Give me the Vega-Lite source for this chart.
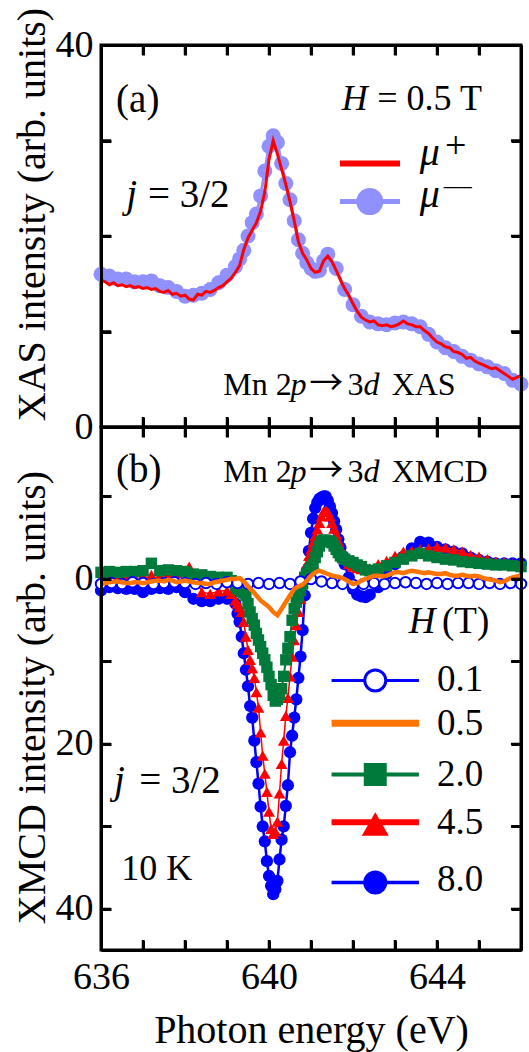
{
"$schema": "https://vega.github.io/schema/vega-lite/v6.json",
"padding": {"left": 10, "top": 5, "right": 5, "bottom": 5},
"background": "white",
"config": {
  "view": {"stroke": "black", "strokeWidth": 3},
  "axis": {"grid": false,
    "labelFont": "Liberation Serif", "labelFontSize": 38, "labelColor": "black", "labelPadding": 18, "labelFlush": false, "labelOverlap": false,
    "titleFont": "Liberation Serif", "titleFontSize": 40, "titleFontWeight": "normal", "titleColor": "black"},
  "text": {"font": "Liberation Serif", "color": "black", "align": "left", "baseline": "alphabetic"}
},
"datasets": {
  "one": [{"k": 1}],
  "xt": [{"t":637},{"t":638},{"t":639},{"t":640},{"t":641},{"t":642},{"t":643},{"t":644},{"t":645}],
  "yta": [{"t":10},{"t":20},{"t":30}],
  "ytb": [{"t":-10},{"t":0},{"t":10},{"t":20},{"t":30},{"t":40}],
  "mp": [
    {"e":636.0,"v":15.4},{"e":636.1,"v":15.2},{"e":636.2,"v":14.9},{"e":636.3,"v":15.1},{"e":636.4,"v":14.8},{"e":636.5,"v":14.9},{"e":636.6,"v":14.7},{"e":636.7,"v":14.8},{"e":636.8,"v":14.6},{"e":636.9,"v":14.7},
    {"e":637.0,"v":14.5},{"e":637.1,"v":14.6},{"e":637.2,"v":14.4},{"e":637.3,"v":14.5},{"e":637.4,"v":14.2},{"e":637.5,"v":14.1},{"e":637.6,"v":14.3},{"e":637.7,"v":13.9},{"e":637.8,"v":14.0},{"e":637.9,"v":13.7},
    {"e":638.0,"v":13.8},{"e":638.1,"v":13.4},{"e":638.2,"v":13.3},{"e":638.3,"v":13.9},{"e":638.4,"v":13.8},{"e":638.5,"v":14.2},{"e":638.6,"v":14.1},{"e":638.7,"v":14.3},{"e":638.8,"v":14.6},{"e":638.9,"v":14.8},
    {"e":639.0,"v":15.2},{"e":639.1,"v":15.6},{"e":639.2,"v":16.2},{"e":639.3,"v":16.9},{"e":639.4,"v":18.6},{"e":639.5,"v":19.8},{"e":639.6,"v":20.6},{"e":639.7,"v":21.4},{"e":639.8,"v":22.6},{"e":639.9,"v":24.6},
    {"e":640.0,"v":28.0},{"e":640.1,"v":30.0},{"e":640.2,"v":28.6},{"e":640.3,"v":27.0},{"e":640.4,"v":25.4},{"e":640.5,"v":23.6},{"e":640.6,"v":21.6},{"e":640.7,"v":19.4},{"e":640.8,"v":18.2},{"e":640.9,"v":17.5},
    {"e":641.0,"v":16.6},{"e":641.1,"v":16.2},{"e":641.2,"v":16.3},{"e":641.3,"v":17.4},{"e":641.4,"v":17.9},{"e":641.5,"v":17.3},{"e":641.6,"v":16.4},{"e":641.7,"v":15.4},{"e":641.8,"v":14.5},{"e":641.9,"v":13.8},
    {"e":642.0,"v":12.9},{"e":642.1,"v":12.1},{"e":642.2,"v":11.5},{"e":642.3,"v":11.2},{"e":642.4,"v":11.0},{"e":642.5,"v":11.1},{"e":642.6,"v":10.7},{"e":642.7,"v":10.6},{"e":642.8,"v":10.7},{"e":642.9,"v":10.5},
    {"e":643.0,"v":10.6},{"e":643.1,"v":10.8},{"e":643.2,"v":11.1},{"e":643.3,"v":10.8},{"e":643.4,"v":10.7},{"e":643.5,"v":10.5},{"e":643.6,"v":10.5},{"e":643.7,"v":10.1},{"e":643.8,"v":9.8},{"e":643.9,"v":9.3},
    {"e":644.0,"v":8.9},{"e":644.1,"v":8.7},{"e":644.2,"v":8.4},{"e":644.3,"v":8.3},{"e":644.4,"v":7.9},{"e":644.5,"v":7.8},{"e":644.6,"v":7.6},{"e":644.7,"v":7.2},{"e":644.8,"v":7.3},{"e":644.9,"v":6.9},
    {"e":645.0,"v":6.7},{"e":645.1,"v":6.5},{"e":645.2,"v":6.3},{"e":645.3,"v":6.1},{"e":645.4,"v":6.2},{"e":645.5,"v":5.9},{"e":645.6,"v":5.6},{"e":645.7,"v":5.3},{"e":645.8,"v":5.0},{"e":645.9,"v":5.2},{"e":646.0,"v":5.4}
  ],
  "mm": [
    {"e":636.0,"v":16.0},{"e":636.2,"v":15.8},{"e":636.4,"v":15.5},{"e":636.6,"v":15.5},{"e":636.8,"v":15.2},{"e":637.0,"v":15.2},{"e":637.2,"v":15.3},{"e":637.4,"v":14.8},{"e":637.6,"v":14.6},{"e":637.8,"v":14.2},
    {"e":638.0,"v":13.7},{"e":638.2,"v":13.8},{"e":638.4,"v":14.0},{"e":638.6,"v":14.4},{"e":638.8,"v":15.1},{"e":639.0,"v":15.9},{"e":639.2,"v":16.8},{"e":639.3,"v":17.6},{"e":639.4,"v":18.5},{"e":639.5,"v":20.0},
    {"e":639.6,"v":21.4},{"e":639.7,"v":22.3},{"e":639.8,"v":24.2},{"e":639.9,"v":26.8},{"e":640.0,"v":29.4},{"e":640.1,"v":30.5},{"e":640.2,"v":29.8},{"e":640.3,"v":27.6},{"e":640.4,"v":25.5},{"e":640.5,"v":23.8},
    {"e":640.6,"v":21.6},{"e":640.7,"v":19.6},{"e":640.8,"v":18.2},{"e":640.9,"v":17.2},{"e":641.0,"v":16.6},{"e":641.1,"v":16.3},{"e":641.2,"v":16.4},{"e":641.3,"v":17.4},{"e":641.4,"v":18.1},{"e":641.6,"v":16.6},
    {"e":641.8,"v":14.4},{"e":642.0,"v":12.8},{"e":642.2,"v":11.6},{"e":642.4,"v":11.0},{"e":642.6,"v":10.8},{"e":642.8,"v":10.7},{"e":643.0,"v":10.9},{"e":643.2,"v":11.0},{"e":643.4,"v":10.8},{"e":643.6,"v":10.5},
    {"e":643.8,"v":9.7},{"e":644.0,"v":8.9},{"e":644.2,"v":8.3},{"e":644.4,"v":7.9},{"e":644.6,"v":7.4},{"e":644.8,"v":7.0},{"e":645.0,"v":6.6},{"e":645.2,"v":6.3},{"e":645.4,"v":5.9},{"e":645.6,"v":5.6},{"e":645.8,"v":4.9},{"e":646.0,"v":4.5}
  ],
  "h80": [
    {"e":636.0,"v":1.4},{"e":636.2,"v":1.0},{"e":636.4,"v":1.1},{"e":636.6,"v":1.2},{"e":636.8,"v":1.2},{"e":637.0,"v":1.6},{"e":637.2,"v":1.2},{"e":637.4,"v":1.1},{"e":637.6,"v":1.2},{"e":637.8,"v":1.0},
    {"e":638.0,"v":1.6},{"e":638.2,"v":2.4},{"e":638.4,"v":2.7},{"e":638.6,"v":2.7},{"e":638.8,"v":2.4},{"e":639.0,"v":2.4},{"e":639.1,"v":2.2},{"e":639.2,"v":3.0},{"e":639.25,"v":4.2},{"e":639.3,"v":5.2},
    {"e":639.35,"v":7.0},{"e":639.4,"v":9.0},{"e":639.45,"v":11.0},{"e":639.5,"v":13.0},{"e":639.55,"v":15.4},{"e":639.6,"v":16.8},{"e":639.65,"v":19.6},{"e":639.7,"v":22.2},{"e":639.75,"v":24.8},{"e":639.8,"v":27.6},
    {"e":639.85,"v":30.0},{"e":639.9,"v":31.8},{"e":639.95,"v":34.2},{"e":640.0,"v":36.0},{"e":640.05,"v":37.2},{"e":640.1,"v":38.2},{"e":640.15,"v":37.6},{"e":640.2,"v":36.6},{"e":640.25,"v":34.0},{"e":640.3,"v":31.6},
    {"e":640.35,"v":30.0},{"e":640.4,"v":27.5},{"e":640.45,"v":25.0},{"e":640.5,"v":21.0},{"e":640.55,"v":19.0},{"e":640.6,"v":16.8},{"e":640.65,"v":14.6},{"e":640.7,"v":12.0},{"e":640.75,"v":9.4},{"e":640.8,"v":6.2},
    {"e":640.85,"v":2.0},{"e":640.9,"v":-1.0},{"e":640.95,"v":-3.4},{"e":641.0,"v":-5.6},{"e":641.05,"v":-7.3},{"e":641.1,"v":-8.6},{"e":641.15,"v":-9.3},{"e":641.2,"v":-9.7},{"e":641.25,"v":-9.9},{"e":641.3,"v":-10.0},
    {"e":641.35,"v":-10.0},{"e":641.4,"v":-9.5},{"e":641.45,"v":-8.8},{"e":641.5,"v":-8.0},{"e":641.55,"v":-7.0},{"e":641.6,"v":-6.0},{"e":641.65,"v":-4.8},{"e":641.7,"v":-3.8},{"e":641.75,"v":-2.8},{"e":641.8,"v":-1.8},
    {"e":641.9,"v":-0.2},{"e":642.0,"v":1.2},{"e":642.1,"v":1.9},{"e":642.2,"v":2.1},{"e":642.3,"v":2.2},{"e":642.4,"v":1.9},{"e":642.6,"v":1.0},{"e":642.8,"v":-0.6},{"e":643.0,"v":-1.8},{"e":643.2,"v":-2.7},
    {"e":643.4,"v":-3.7},{"e":643.6,"v":-4.5},{"e":643.8,"v":-4.4},{"e":644.0,"v":-3.9},{"e":644.2,"v":-3.6},{"e":644.4,"v":-3.3},{"e":644.6,"v":-3.1},{"e":644.8,"v":-2.6},{"e":645.0,"v":-2.3},{"e":645.2,"v":-2.1},
    {"e":645.4,"v":-1.9},{"e":645.6,"v":-1.9},{"e":645.8,"v":-1.9},{"e":646.0,"v":-1.9}
  ],
  "h45": [
    {"e":636.0,"v":0.2},{"e":636.2,"v":0.0},{"e":636.4,"v":-0.2},{"e":636.6,"v":-0.3},{"e":636.8,"v":-0.2},{"e":637.0,"v":-0.4},{"e":637.2,"v":-0.5},{"e":637.4,"v":-0.4},{"e":637.6,"v":-0.6},{"e":637.8,"v":-0.7},
    {"e":638.0,"v":-1.0},{"e":638.1,"v":-1.5},{"e":638.2,"v":-0.6},{"e":638.4,"v":1.6},{"e":638.6,"v":1.8},{"e":638.8,"v":1.5},{"e":639.0,"v":1.4},{"e":639.1,"v":1.8},{"e":639.2,"v":2.6},{"e":639.25,"v":3.0},
    {"e":639.3,"v":3.4},{"e":639.35,"v":4.0},{"e":639.4,"v":5.2},{"e":639.45,"v":7.0},{"e":639.5,"v":8.6},{"e":639.55,"v":9.8},{"e":639.6,"v":10.8},{"e":639.65,"v":12.0},{"e":639.7,"v":13.7},{"e":639.75,"v":15.6},
    {"e":639.8,"v":18.6},{"e":639.85,"v":21.4},{"e":639.9,"v":23.6},{"e":639.95,"v":25.8},{"e":640.0,"v":28.2},{"e":640.05,"v":30.3},{"e":640.1,"v":30.9},{"e":640.15,"v":30.6},{"e":640.2,"v":29.4},{"e":640.25,"v":26.0},
    {"e":640.3,"v":22.4},{"e":640.35,"v":19.6},{"e":640.4,"v":16.6},{"e":640.45,"v":14.4},{"e":640.5,"v":11.8},{"e":640.55,"v":9.4},{"e":640.6,"v":7.4},{"e":640.65,"v":5.6},{"e":640.7,"v":4.0},{"e":640.75,"v":2.4},
    {"e":640.8,"v":0.4},{"e":640.85,"v":-0.8},{"e":640.9,"v":-1.8},{"e":640.95,"v":-2.8},{"e":641.0,"v":-3.6},{"e":641.05,"v":-4.4},{"e":641.1,"v":-5.2},{"e":641.15,"v":-6.0},{"e":641.2,"v":-6.8},{"e":641.25,"v":-7.6},
    {"e":641.3,"v":-8.2},{"e":641.35,"v":-8.3},{"e":641.4,"v":-8.1},{"e":641.45,"v":-7.6},{"e":641.5,"v":-6.8},{"e":641.55,"v":-6.1},{"e":641.6,"v":-5.4},{"e":641.65,"v":-4.6},{"e":641.7,"v":-3.8},{"e":641.75,"v":-3.0},
    {"e":641.8,"v":-2.4},{"e":641.9,"v":-1.8},{"e":642.0,"v":-1.5},{"e":642.1,"v":-1.3},{"e":642.2,"v":-1.2},{"e":642.3,"v":-1.2},{"e":642.4,"v":-1.3},{"e":642.6,"v":-1.8},{"e":642.8,"v":-2.2},{"e":643.0,"v":-2.8},
    {"e":643.2,"v":-3.3},{"e":643.4,"v":-3.4},{"e":643.6,"v":-3.6},{"e":643.8,"v":-3.7},{"e":644.0,"v":-3.9},{"e":644.2,"v":-3.8},{"e":644.4,"v":-3.6},{"e":644.6,"v":-3.3},{"e":644.8,"v":-2.9},{"e":645.0,"v":-2.7},
    {"e":645.2,"v":-2.4},{"e":645.4,"v":-2.1},{"e":645.6,"v":-2.0},{"e":645.8,"v":-1.8},{"e":646.0,"v":-1.7}
  ],
  "h20": [
    {"e":636.0,"v":-0.8},{"e":636.2,"v":-0.9},{"e":636.4,"v":-0.8},{"e":636.6,"v":-0.9},{"e":636.8,"v":-0.9},{"e":637.0,"v":-1.0},{"e":637.2,"v":-1.9},{"e":637.4,"v":-1.0},{"e":637.6,"v":-1.1},{"e":637.8,"v":-1.0},
    {"e":638.0,"v":-0.9},{"e":638.2,"v":-0.6},{"e":638.4,"v":-0.5},{"e":638.6,"v":-0.3},{"e":638.8,"v":-0.2},{"e":639.0,"v":-0.2},{"e":639.1,"v":0.2},{"e":639.2,"v":0.8},{"e":639.25,"v":1.1},{"e":639.3,"v":1.3},
    {"e":639.35,"v":1.5},{"e":639.4,"v":1.7},{"e":639.45,"v":2.0},{"e":639.5,"v":3.0},{"e":639.55,"v":4.0},{"e":639.6,"v":4.8},{"e":639.65,"v":5.6},{"e":639.7,"v":6.6},{"e":639.75,"v":7.4},{"e":639.8,"v":8.2},
    {"e":639.85,"v":9.0},{"e":639.9,"v":9.8},{"e":639.95,"v":10.7},{"e":640.0,"v":11.8},{"e":640.05,"v":12.8},{"e":640.1,"v":14.1},{"e":640.15,"v":14.8},{"e":640.2,"v":14.6},{"e":640.25,"v":14.0},{"e":640.3,"v":13.3},
    {"e":640.35,"v":11.8},{"e":640.4,"v":9.8},{"e":640.45,"v":8.4},{"e":640.5,"v":7.0},{"e":640.55,"v":5.0},{"e":640.6,"v":3.6},{"e":640.65,"v":2.8},{"e":640.7,"v":2.2},{"e":640.75,"v":1.4},{"e":640.8,"v":0.6},
    {"e":640.85,"v":-0.2},{"e":640.9,"v":-0.7},{"e":640.95,"v":-1.1},{"e":641.0,"v":-1.4},{"e":641.05,"v":-1.8},{"e":641.1,"v":-2.6},{"e":641.15,"v":-3.3},{"e":641.2,"v":-4.0},{"e":641.25,"v":-4.5},{"e":641.3,"v":-4.7},
    {"e":641.35,"v":-4.7},{"e":641.4,"v":-4.6},{"e":641.45,"v":-4.6},{"e":641.5,"v":-4.4},{"e":641.55,"v":-4.0},{"e":641.6,"v":-3.6},{"e":641.65,"v":-3.2},{"e":641.7,"v":-2.8},{"e":641.75,"v":-2.6},{"e":641.8,"v":-2.4},
    {"e":641.9,"v":-2.2},{"e":642.0,"v":-2.0},{"e":642.1,"v":-1.7},{"e":642.2,"v":-1.5},{"e":642.3,"v":-1.1},{"e":642.4,"v":-1.0},{"e":642.6,"v":-1.2},{"e":642.8,"v":-1.6},{"e":643.0,"v":-2.0},{"e":643.2,"v":-2.4},
    {"e":643.4,"v":-2.8},{"e":643.6,"v":-3.1},{"e":643.8,"v":-2.8},{"e":644.0,"v":-2.6},{"e":644.2,"v":-2.4},{"e":644.4,"v":-2.3},{"e":644.6,"v":-2.1},{"e":644.8,"v":-2.0},{"e":645.0,"v":-1.9},{"e":645.2,"v":-1.8},
    {"e":645.4,"v":-1.7},{"e":645.6,"v":-1.7},{"e":645.8,"v":-1.6},{"e":646.0,"v":-1.5}
  ],
  "h01": [
    {"e":636.0,"v":0.6},{"e":636.25,"v":0.5},{"e":636.5,"v":0.6},{"e":636.75,"v":0.4},{"e":637.0,"v":0.5},{"e":637.25,"v":0.6},{"e":637.5,"v":0.5},{"e":637.75,"v":0.4},{"e":638.0,"v":0.5},{"e":638.25,"v":0.6},
    {"e":638.5,"v":0.5},{"e":638.75,"v":0.6},{"e":639.0,"v":0.4},{"e":639.25,"v":0.5},{"e":639.5,"v":0.6},{"e":639.75,"v":0.5},{"e":640.0,"v":0.6},{"e":640.25,"v":0.5},{"e":640.5,"v":0.6},{"e":640.75,"v":0.3},
    {"e":641.0,"v":0.0},{"e":641.25,"v":0.3},{"e":641.5,"v":0.5},{"e":641.75,"v":0.6},{"e":642.0,"v":0.7},{"e":642.25,"v":0.6},{"e":642.5,"v":0.5},{"e":642.75,"v":0.6},{"e":643.0,"v":0.5},{"e":643.25,"v":0.4},
    {"e":643.5,"v":0.5},{"e":643.75,"v":0.6},{"e":644.0,"v":0.5},{"e":644.25,"v":0.6},{"e":644.5,"v":0.5},{"e":644.75,"v":0.5},{"e":645.0,"v":0.6},{"e":645.25,"v":0.5},{"e":645.5,"v":0.6},{"e":645.75,"v":0.5},{"e":646.0,"v":0.6}
  ],
  "h05": [
    {"e":636.0,"v":0.6},{"e":636.1,"v":0.5},{"e":636.2,"v":0.4},{"e":636.3,"v":0.3},{"e":636.4,"v":0.3},{"e":636.5,"v":0.4},{"e":636.6,"v":0.5},{"e":636.7,"v":0.5},{"e":636.8,"v":0.4},{"e":636.9,"v":0.4},
    {"e":637.0,"v":0.5},{"e":637.1,"v":0.4},{"e":637.2,"v":0.3},{"e":637.3,"v":0.2},{"e":637.4,"v":0.2},{"e":637.5,"v":0.3},{"e":637.6,"v":0.1},{"e":637.7,"v":0.2},{"e":637.8,"v":0.4},{"e":637.9,"v":0.3},
    {"e":638.0,"v":0.2},{"e":638.1,"v":0.3},{"e":638.2,"v":0.4},{"e":638.3,"v":0.5},{"e":638.4,"v":0.5},{"e":638.5,"v":0.6},{"e":638.6,"v":0.6},{"e":638.7,"v":0.4},{"e":638.8,"v":0.3},{"e":638.9,"v":0.2},
    {"e":639.0,"v":0.1},{"e":639.1,"v":0.0},{"e":639.2,"v":0.0},{"e":639.3,"v":-0.1},{"e":639.4,"v":0.3},{"e":639.5,"v":0.9},{"e":639.6,"v":1.4},{"e":639.7,"v":2.0},{"e":639.8,"v":2.6},{"e":639.9,"v":3.0},
    {"e":640.0,"v":3.4},{"e":640.1,"v":4.0},{"e":640.2,"v":4.4},{"e":640.3,"v":3.6},{"e":640.4,"v":2.8},{"e":640.5,"v":2.0},{"e":640.6,"v":1.2},{"e":640.7,"v":0.9},{"e":640.8,"v":0.7},{"e":640.9,"v":0.2},
    {"e":641.0,"v":-0.4},{"e":641.1,"v":-0.8},{"e":641.2,"v":-1.0},{"e":641.3,"v":-0.8},{"e":641.4,"v":-0.6},{"e":641.5,"v":-0.4},{"e":641.6,"v":-0.3},{"e":641.7,"v":-0.2},{"e":641.8,"v":0.0},{"e":641.9,"v":0.3},
    {"e":642.0,"v":0.6},{"e":642.1,"v":0.5},{"e":642.2,"v":0.2},{"e":642.3,"v":0.0},{"e":642.4,"v":-0.2},{"e":642.5,"v":-0.4},{"e":642.6,"v":-0.4},{"e":642.7,"v":-0.3},{"e":642.8,"v":-0.4},{"e":642.9,"v":-0.6},
    {"e":643.0,"v":-0.8},{"e":643.1,"v":-0.8},{"e":643.2,"v":-0.7},{"e":643.3,"v":-0.9},{"e":643.4,"v":-1.0},{"e":643.5,"v":-0.9},{"e":643.6,"v":-0.8},{"e":643.7,"v":-0.7},{"e":643.8,"v":-0.8},{"e":643.9,"v":-0.7},
    {"e":644.0,"v":-0.6},{"e":644.1,"v":-0.6},{"e":644.2,"v":-0.7},{"e":644.3,"v":-0.5},{"e":644.4,"v":-0.4},{"e":644.5,"v":-0.4},{"e":644.6,"v":-0.5},{"e":644.7,"v":-0.4},{"e":644.8,"v":-0.3},{"e":644.9,"v":-0.4},
    {"e":645.0,"v":-0.3},{"e":645.1,"v":-0.1},{"e":645.2,"v":0.0},{"e":645.3,"v":0.1},{"e":645.4,"v":0.2},{"e":645.5,"v":0.4},{"e":645.6,"v":0.3},{"e":645.7,"v":0.0},{"e":645.8,"v":-0.2},{"e":645.9,"v":-0.3},{"e":646.0,"v":-0.4}
  ]
},
"spacing": 0,
"bounds": "flush",
"vconcat": [
 {
  "width": 420, "height": 382,
  "resolve": {"axis": {"x": "independent", "y": "independent"}},
  "layer": [
   {"data": {"name": "mm"}, "mark": {"type": "line", "color": "#9090ff", "strokeWidth": 3},
    "encoding": {
     "x": {"field": "e", "type": "quantitative", "scale": {"domain": [636, 646], "nice": false, "zero": false},
           "axis": {"orient": "bottom", "values": [636,637,638,639,640,641,642,643,644,645,646], "labels": false, "tickSize": -10, "tickColor": "#000000", "tickWidth": 3, "domainColor": "black", "domainWidth": 3, "zindex": 1, "title": null}},
     "y": {"field": "v", "type": "quantitative", "scale": {"domain": [0, 40], "nice": false, "zero": false},
           "axis": {"orient": "left", "values": [0,10,20,30,40], "labelExpr": "datum.value % 40 === 0 ? datum.label : ''", "tickSize": -10, "tickColor": "#000000", "tickWidth": 3, "domainColor": "black", "domainWidth": 3, "zindex": 1, "title": "XAS intensity (arb. units)", "titleY": 169, "titlePadding": 3}}
    }},
   {"data": {"name": "mm"}, "mark": {"type": "point", "shape": "circle", "filled": true, "color": "#9090ff", "size": 225, "opacity": 1},
    "encoding": {
     "x": {"field": "e", "type": "quantitative", "axis": {"orient": "top", "values": [636,637,638,639,640,641,642,643,644,645,646], "labels": false, "tickSize": -10, "tickColor": "#000000", "tickWidth": 3, "domainColor": "black", "domainWidth": 3, "zindex": 1, "title": null}},
     "y": {"field": "v", "type": "quantitative", "axis": {"orient": "right", "values": [0,10,20,30,40], "labels": false, "tickSize": -10, "tickColor": "#000000", "tickWidth": 3, "domainColor": "black", "domainWidth": 3, "zindex": 1, "title": null}}
    }},
   {"data": {"name": "mp"}, "mark": {"type": "line", "color": "#ff0000", "strokeWidth": 3},
    "encoding": {"x": {"field": "e", "type": "quantitative", "axis": null}, "y": {"field": "v", "type": "quantitative", "axis": null}}},
   {"data": {"name": "xt"}, "mark": {"type": "rule", "color": "black", "strokeWidth": 2.5},
    "encoding": {"x": {"field": "t", "type": "quantitative", "axis": null}, "y": {"datum": 0, "type": "quantitative", "axis": null}, "y2": {"datum": 1.05}}},
   {"data": {"name": "xt"}, "mark": {"type": "rule", "color": "black", "strokeWidth": 2.5},
    "encoding": {"x": {"field": "t", "type": "quantitative", "axis": null}, "y": {"datum": 40, "type": "quantitative", "axis": null}, "y2": {"datum": 38.95}}},
   {"data": {"name": "yta"}, "mark": {"type": "rule", "color": "black", "strokeWidth": 2.5},
    "encoding": {"y": {"field": "t", "type": "quantitative", "axis": null}, "x": {"datum": 636, "type": "quantitative", "axis": null}, "x2": {"datum": 636.24}}},
   {"data": {"name": "yta"}, "mark": {"type": "rule", "color": "black", "strokeWidth": 2.5},
    "encoding": {"y": {"field": "t", "type": "quantitative", "axis": null}, "x": {"datum": 646, "type": "quantitative", "axis": null}, "x2": {"datum": 645.76}}},
   {"data": {"name": "one"}, "mark": {"type": "rule", "color": "#ff0000", "strokeWidth": 6},
    "encoding": {"x": {"datum": 641.69, "type": "quantitative", "axis": null}, "x2": {"datum": 643.12}, "y": {"datum": 27.6, "type": "quantitative", "axis": null}}},
   {"data": {"name": "one"}, "mark": {"type": "rule", "color": "#9090ff", "strokeWidth": 5},
    "encoding": {"x": {"datum": 641.69, "type": "quantitative", "axis": null}, "x2": {"datum": 643.12}, "y": {"datum": 23.6, "type": "quantitative", "axis": null}}},
   {"data": {"name": "one"}, "mark": {"type": "point", "shape": "circle", "filled": true, "color": "#9090ff", "size": 729, "opacity": 1},
    "encoding": {"x": {"datum": 642.40, "type": "quantitative", "axis": null}, "y": {"datum": 23.6, "type": "quantitative", "axis": null}}},
   {"data": {"name": "one"}, "mark": {"type": "text", "text": "(a)", "fontSize": 39},
    "encoding": {"x": {"datum": 636.36, "type": "quantitative", "axis": null}, "y": {"datum": 33.0, "type": "quantitative", "axis": null}}},
   {"data": {"name": "one"}, "mark": {"type": "text", "text": "H", "fontSize": 36, "fontStyle": "italic"},
    "encoding": {"x": {"datum": 641.73, "type": "quantitative", "axis": null}, "y": {"datum": 33.2, "type": "quantitative", "axis": null}}},
   {"data": {"name": "one"}, "mark": {"type": "text", "text": "= 0.5 T", "fontSize": 36, "align": "right"},
    "encoding": {"x": {"datum": 645.07, "type": "quantitative", "axis": null}, "y": {"datum": 33.2, "type": "quantitative", "axis": null}}},
   {"data": {"name": "one"}, "mark": {"type": "text", "text": "j", "fontSize": 39, "fontStyle": "italic"},
    "encoding": {"x": {"datum": 636.60, "type": "quantitative", "axis": null}, "y": {"datum": 23.0, "type": "quantitative", "axis": null}}},
   {"data": {"name": "one"}, "mark": {"type": "text", "text": "= 3/2", "fontSize": 39},
    "encoding": {"x": {"datum": 637.12, "type": "quantitative", "axis": null}, "y": {"datum": 23.0, "type": "quantitative", "axis": null}}},
   {"data": {"name": "one"}, "mark": {"type": "text", "text": "Mn 2", "fontSize": 32},
    "encoding": {"x": {"datum": 638.91, "type": "quantitative", "axis": null}, "y": {"datum": 3.38, "type": "quantitative", "axis": null}}},
   {"data": {"name": "one"}, "mark": {"type": "text", "text": "p", "fontSize": 32, "fontStyle": "italic"},
    "encoding": {"x": {"datum": 640.51, "type": "quantitative", "axis": null}, "y": {"datum": 3.38, "type": "quantitative", "axis": null}}},
   {"data": {"name": "one"}, "mark": {"type": "text", "text": "→", "fontSize": 34, "font": "Noto Sans CJK JP"},
    "encoding": {"x": {"datum": 640.96, "type": "quantitative", "axis": null}, "y": {"datum": 3.38, "type": "quantitative", "axis": null}}},
   {"data": {"name": "one"}, "mark": {"type": "text", "text": "3", "fontSize": 32},
    "encoding": {"x": {"datum": 641.87, "type": "quantitative", "axis": null}, "y": {"datum": 3.38, "type": "quantitative", "axis": null}}},
   {"data": {"name": "one"}, "mark": {"type": "text", "text": "d", "fontSize": 32, "fontStyle": "italic"},
    "encoding": {"x": {"datum": 642.25, "type": "quantitative", "axis": null}, "y": {"datum": 3.38, "type": "quantitative", "axis": null}}},
   {"data": {"name": "one"}, "mark": {"type": "text", "text": "XAS", "fontSize": 32},
    "encoding": {"x": {"datum": 642.92, "type": "quantitative", "axis": null}, "y": {"datum": 3.38, "type": "quantitative", "axis": null}}},
   {"data": {"name": "one"}, "mark": {"type": "text", "text": "μ", "fontSize": 40, "fontStyle": "italic"},
    "encoding": {"x": {"datum": 643.59, "type": "quantitative", "axis": null}, "y": {"datum": 27.4, "type": "quantitative", "axis": null}}},
   {"data": {"name": "one"}, "mark": {"type": "text", "text": "+", "fontSize": 38},
    "encoding": {"x": {"datum": 644.19, "type": "quantitative", "axis": null}, "y": {"datum": 28.2, "type": "quantitative", "axis": null}}},
   {"data": {"name": "one"}, "mark": {"type": "text", "text": "μ", "fontSize": 40, "fontStyle": "italic"},
    "encoding": {"x": {"datum": 643.59, "type": "quantitative", "axis": null}, "y": {"datum": 23.0, "type": "quantitative", "axis": null}}},
   {"data": {"name": "one"}, "mark": {"type": "text", "text": "—", "fontSize": 28},
    "encoding": {"x": {"datum": 644.16, "type": "quantitative", "axis": null}, "y": {"datum": 24.4, "type": "quantitative", "axis": null}}}
  ]
 },
 {
  "width": 420, "height": 523,
  "resolve": {"axis": {"x": "independent", "y": "independent"}},
  "layer": [
   {"data": {"name": "h80"}, "mark": {"type": "line", "color": "#0000ff", "strokeWidth": 2.5},
    "encoding": {
     "x": {"field": "e", "type": "quantitative", "scale": {"domain": [636, 646], "nice": false, "zero": false},
           "axis": {"orient": "bottom", "values": [636,637,638,639,640,641,642,643,644,645,646], "labelExpr": "datum.value % 4 === 0 ? datum.label : ''", "tickSize": -10, "tickColor": "#000000", "tickWidth": 3, "domainColor": "black", "domainWidth": 3, "zindex": 1, "title": "Photon energy (eV)", "titlePadding": 14}},
     "y": {"field": "v", "type": "quantitative", "scale": {"domain": [-18.42, 44.97], "reverse": true, "nice": false, "zero": false},
           "axis": {"orient": "left", "values": [-10,0,10,20,30,40], "labelExpr": "datum.value % 20 === 0 ? datum.label : ''", "tickSize": -10, "tickColor": "#000000", "tickWidth": 3, "domainColor": "black", "domainWidth": 3, "zindex": 1, "title": "XMCD intensity (arb. units)", "titleY": 270, "titlePadding": 3}}
    }},
   {"data": {"name": "h80"}, "mark": {"type": "point", "shape": "circle", "filled": true, "color": "#0000ff", "size": 150, "opacity": 1},
    "encoding": {
     "x": {"field": "e", "type": "quantitative", "axis": {"orient": "top", "values": [636,637,638,639,640,641,642,643,644,645,646], "labels": false, "tickSize": -10, "tickColor": "#000000", "tickWidth": 3, "domainColor": "black", "domainWidth": 3, "zindex": 1, "title": null}},
     "y": {"field": "v", "type": "quantitative", "axis": {"orient": "right", "values": [-10,0,10,20,30,40], "labels": false, "tickSize": -10, "tickColor": "#000000", "tickWidth": 3, "domainColor": "black", "domainWidth": 3, "zindex": 1, "title": null}}
    }},
   {"data": {"name": "h45"}, "mark": {"type": "line", "color": "#ff0000", "strokeWidth": 1.5},
    "encoding": {"x": {"field": "e", "type": "quantitative", "axis": null}, "y": {"field": "v", "type": "quantitative", "axis": null}}},
   {"data": {"name": "h45"}, "mark": {"type": "point", "shape": "triangle-up", "filled": true, "color": "#ff0000", "size": 140, "opacity": 1},
    "encoding": {"x": {"field": "e", "type": "quantitative", "axis": null}, "y": {"field": "v", "type": "quantitative", "axis": null}}},
   {"data": {"name": "h20"}, "mark": {"type": "line", "color": "#007a3a", "strokeWidth": 2},
    "encoding": {"x": {"field": "e", "type": "quantitative", "axis": null}, "y": {"field": "v", "type": "quantitative", "axis": null}}},
   {"data": {"name": "h20"}, "mark": {"type": "point", "shape": "square", "filled": true, "color": "#007a3a", "size": 130, "opacity": 1},
    "encoding": {"x": {"field": "e", "type": "quantitative", "axis": null}, "y": {"field": "v", "type": "quantitative", "axis": null}}},
   {"data": {"name": "h01"}, "mark": {"type": "line", "color": "#0000ff", "strokeWidth": 1.5},
    "encoding": {"x": {"field": "e", "type": "quantitative", "axis": null}, "y": {"field": "v", "type": "quantitative", "axis": null}}},
   {"data": {"name": "h01"}, "mark": {"type": "point", "shape": "circle", "filled": true, "fill": "white", "stroke": "#0000ff", "strokeWidth": 2, "size": 110, "opacity": 1},
    "encoding": {"x": {"field": "e", "type": "quantitative", "axis": null}, "y": {"field": "v", "type": "quantitative", "axis": null}}},
   {"data": {"name": "h05"}, "mark": {"type": "line", "color": "#ff7300", "strokeWidth": 4.5},
    "encoding": {"x": {"field": "e", "type": "quantitative", "axis": null}, "y": {"field": "v", "type": "quantitative", "axis": null}}},
   {"data": {"name": "xt"}, "mark": {"type": "rule", "color": "black", "strokeWidth": 2.5},
    "encoding": {"x": {"field": "t", "type": "quantitative", "axis": null}, "y": {"datum": 44.97, "type": "quantitative", "axis": null}, "y2": {"datum": 43.76}}},
   {"data": {"name": "xt"}, "mark": {"type": "rule", "color": "black", "strokeWidth": 2.5},
    "encoding": {"x": {"field": "t", "type": "quantitative", "axis": null}, "y": {"datum": -18.42, "type": "quantitative", "axis": null}, "y2": {"datum": -17.21}}},
   {"data": {"name": "ytb"}, "mark": {"type": "rule", "color": "black", "strokeWidth": 2.5},
    "encoding": {"y": {"field": "t", "type": "quantitative", "axis": null}, "x": {"datum": 636, "type": "quantitative", "axis": null}, "x2": {"datum": 636.24}}},
   {"data": {"name": "ytb"}, "mark": {"type": "rule", "color": "black", "strokeWidth": 2.5},
    "encoding": {"y": {"field": "t", "type": "quantitative", "axis": null}, "x": {"datum": 646, "type": "quantitative", "axis": null}, "x2": {"datum": 645.76}}},
   {"data": {"name": "one"}, "mark": {"type": "text", "text": "(b)", "fontSize": 39},
    "encoding": {"x": {"datum": 636.36, "type": "quantitative", "axis": null}, "y": {"datum": -11.8, "type": "quantitative", "axis": null}}},
   {"data": {"name": "one"}, "mark": {"type": "text", "text": "Mn 2", "fontSize": 32},
    "encoding": {"x": {"datum": 638.91, "type": "quantitative", "axis": null}, "y": {"datum": -11.8, "type": "quantitative", "axis": null}}},
   {"data": {"name": "one"}, "mark": {"type": "text", "text": "p", "fontSize": 32, "fontStyle": "italic"},
    "encoding": {"x": {"datum": 640.51, "type": "quantitative", "axis": null}, "y": {"datum": -11.8, "type": "quantitative", "axis": null}}},
   {"data": {"name": "one"}, "mark": {"type": "text", "text": "→", "fontSize": 34, "font": "Noto Sans CJK JP"},
    "encoding": {"x": {"datum": 640.96, "type": "quantitative", "axis": null}, "y": {"datum": -11.8, "type": "quantitative", "axis": null}}},
   {"data": {"name": "one"}, "mark": {"type": "text", "text": "3", "fontSize": 32},
    "encoding": {"x": {"datum": 641.87, "type": "quantitative", "axis": null}, "y": {"datum": -11.8, "type": "quantitative", "axis": null}}},
   {"data": {"name": "one"}, "mark": {"type": "text", "text": "d", "fontSize": 32, "fontStyle": "italic"},
    "encoding": {"x": {"datum": 642.25, "type": "quantitative", "axis": null}, "y": {"datum": -11.8, "type": "quantitative", "axis": null}}},
   {"data": {"name": "one"}, "mark": {"type": "text", "text": "XMCD", "fontSize": 32},
    "encoding": {"x": {"datum": 642.92, "type": "quantitative", "axis": null}, "y": {"datum": -11.8, "type": "quantitative", "axis": null}}},
   {"data": {"name": "one"}, "mark": {"type": "text", "text": "H", "fontSize": 37, "fontStyle": "italic"},
    "encoding": {"x": {"datum": 643.33, "type": "quantitative", "axis": null}, "y": {"datum": 6.5, "type": "quantitative", "axis": null}}},
   {"data": {"name": "one"}, "mark": {"type": "text", "text": "(T)", "fontSize": 37},
    "encoding": {"x": {"datum": 644.12, "type": "quantitative", "axis": null}, "y": {"datum": 6.5, "type": "quantitative", "axis": null}}},
   {"data": {"name": "one"}, "mark": {"type": "text", "text": "j", "fontSize": 39, "fontStyle": "italic"},
    "encoding": {"x": {"datum": 636.31, "type": "quantitative", "axis": null}, "y": {"datum": 26.0, "type": "quantitative", "axis": null}}},
   {"data": {"name": "one"}, "mark": {"type": "text", "text": "= 3/2", "fontSize": 39},
    "encoding": {"x": {"datum": 636.91, "type": "quantitative", "axis": null}, "y": {"datum": 26.0, "type": "quantitative", "axis": null}}},
   {"data": {"name": "one"}, "mark": {"type": "text", "text": "10 K", "fontSize": 36},
    "encoding": {"x": {"datum": 636.48, "type": "quantitative", "axis": null}, "y": {"datum": 36.5, "type": "quantitative", "axis": null}}},
   {"data": {"name": "one"}, "mark": {"type": "rule", "color": "#0000ff", "strokeWidth": 3},
    "encoding": {"x": {"datum": 641.49, "type": "quantitative", "axis": null}, "x2": {"datum": 643.57}, "y": {"datum": 12.3, "type": "quantitative", "axis": null}}},
   {"data": {"name": "one"}, "mark": {"type": "point", "shape": "circle", "filled": true, "fill": "white", "stroke": "#0000ff", "strokeWidth": 3, "size": 441, "opacity": 1},
    "encoding": {"x": {"datum": 642.53, "type": "quantitative", "axis": null}, "y": {"datum": 12.3, "type": "quantitative", "axis": null}}},
   {"data": {"name": "one"}, "mark": {"type": "text", "text": "0.1", "fontSize": 37},
    "encoding": {"x": {"datum": 644.0, "type": "quantitative", "axis": null}, "y": {"datum": 13.6, "type": "quantitative", "axis": null}}},
   {"data": {"name": "one"}, "mark": {"type": "rule", "color": "#ff7300", "strokeWidth": 7},
    "encoding": {"x": {"datum": 641.49, "type": "quantitative", "axis": null}, "x2": {"datum": 643.57}, "y": {"datum": 17.5, "type": "quantitative", "axis": null}}},
   {"data": {"name": "one"}, "mark": {"type": "text", "text": "0.5", "fontSize": 37},
    "encoding": {"x": {"datum": 644.0, "type": "quantitative", "axis": null}, "y": {"datum": 18.9, "type": "quantitative", "axis": null}}},
   {"data": {"name": "one"}, "mark": {"type": "rule", "color": "#007a3a", "strokeWidth": 4},
    "encoding": {"x": {"datum": 641.49, "type": "quantitative", "axis": null}, "x2": {"datum": 643.57}, "y": {"datum": 23.7, "type": "quantitative", "axis": null}}},
   {"data": {"name": "one"}, "mark": {"type": "point", "shape": "square", "filled": true, "color": "#007a3a", "size": 529, "opacity": 1},
    "encoding": {"x": {"datum": 642.53, "type": "quantitative", "axis": null}, "y": {"datum": 23.7, "type": "quantitative", "axis": null}}},
   {"data": {"name": "one"}, "mark": {"type": "text", "text": "2.0", "fontSize": 37},
    "encoding": {"x": {"datum": 644.0, "type": "quantitative", "axis": null}, "y": {"datum": 25.1, "type": "quantitative", "axis": null}}},
   {"data": {"name": "one"}, "mark": {"type": "rule", "color": "#ff0000", "strokeWidth": 6},
    "encoding": {"x": {"datum": 641.49, "type": "quantitative", "axis": null}, "x2": {"datum": 643.57}, "y": {"datum": 29.5, "type": "quantitative", "axis": null}}},
   {"data": {"name": "one"}, "mark": {"type": "point", "shape": "triangle-up", "filled": true, "color": "#ff0000", "size": 729, "opacity": 1},
    "encoding": {"x": {"datum": 642.53, "type": "quantitative", "axis": null}, "y": {"datum": 29.7, "type": "quantitative", "axis": null}}},
   {"data": {"name": "one"}, "mark": {"type": "text", "text": "4.5", "fontSize": 37},
    "encoding": {"x": {"datum": 644.0, "type": "quantitative", "axis": null}, "y": {"datum": 30.9, "type": "quantitative", "axis": null}}},
   {"data": {"name": "one"}, "mark": {"type": "rule", "color": "#0000ff", "strokeWidth": 3.5},
    "encoding": {"x": {"datum": 641.49, "type": "quantitative", "axis": null}, "x2": {"datum": 643.57}, "y": {"datum": 36.8, "type": "quantitative", "axis": null}}},
   {"data": {"name": "one"}, "mark": {"type": "point", "shape": "circle", "filled": true, "color": "#0000ff", "size": 576, "opacity": 1},
    "encoding": {"x": {"datum": 642.53, "type": "quantitative", "axis": null}, "y": {"datum": 36.8, "type": "quantitative", "axis": null}}},
   {"data": {"name": "one"}, "mark": {"type": "text", "text": "8.0", "fontSize": 37},
    "encoding": {"x": {"datum": 644.0, "type": "quantitative", "axis": null}, "y": {"datum": 37.8, "type": "quantitative", "axis": null}}}
  ]
 }
]
}
